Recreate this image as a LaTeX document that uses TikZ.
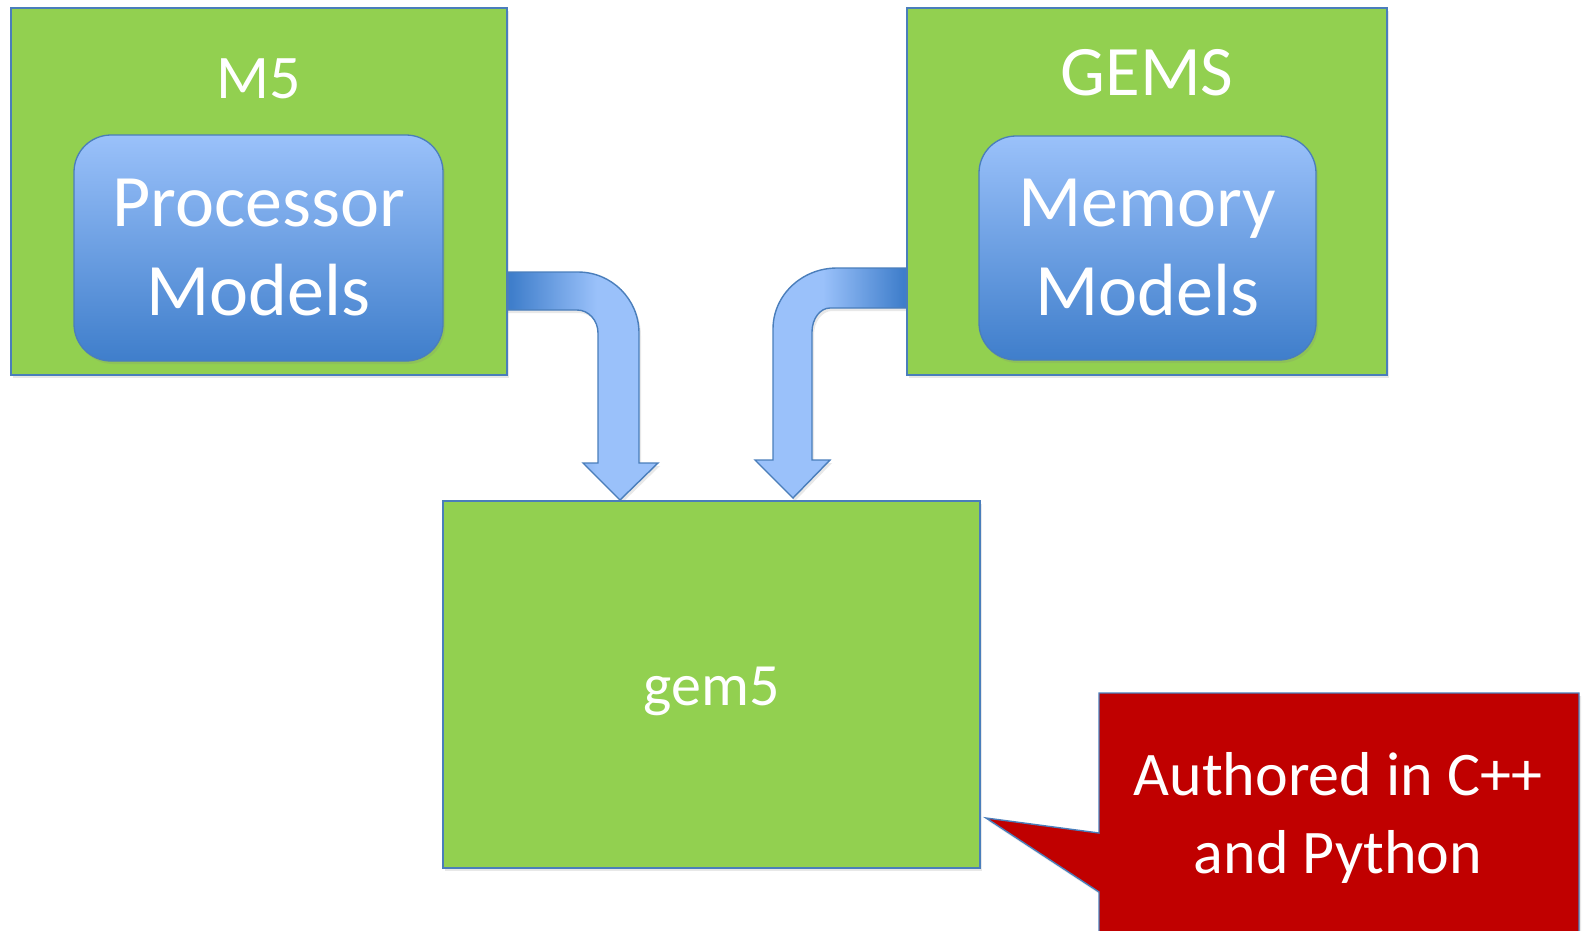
\documentclass[tikz,border=0pt]{standalone}
\usepackage{fontspec}
\setmainfont{Carlito}
\usetikzlibrary{shadows}
\definecolor{grn}{HTML}{92D050}
\definecolor{bord}{HTML}{4A7EBB}
\definecolor{lblue}{HTML}{9AC1FA}
\definecolor{dblue}{HTML}{3F7ECB}
\definecolor{calred}{HTML}{C00000}
\pgfdeclarehorizontalshading{arrowL}{100bp}{color(0bp)=(dblue); color(27bp)=(dblue); color(55bp)=(lblue); color(100bp)=(lblue)}
\pgfdeclarehorizontalshading{arrowR}{100bp}{color(0bp)=(lblue); color(47bp)=(lblue); color(73bp)=(dblue); color(100bp)=(dblue)}
\tikzset{
  softshadow/.style={drop shadow={opacity=0.18, shadow xshift=2pt, shadow yshift=-3pt}},
  greenbox/.style={draw=bord, line width=1.8pt, fill=grn, inner sep=0pt, softshadow},
  modelbox/.style={draw=bord, line width=1.3pt, rounded corners=37pt, top color=lblue, bottom color=dblue, inner sep=0pt, softshadow},
  ttl/.style={text=white, inner sep=0pt, font=\fontsize{62}{74}\selectfont},
  bigtxt/.style={text=white, inner sep=0pt, align=center, font=\fontsize{74}{89}\selectfont},
  bentarrow/.style={draw=bord, line width=1.4pt, line join=miter, softshadow}
}
\begin{document}
\begin{tikzpicture}[x=1pt,y=-1pt]
\useasboundingbox (0,0) rectangle (1583,930);
\clip (0,0) rectangle (1583,930);

% bent arrows (drawn first so the box borders lie on top)
\path[bentarrow, shading=arrowL]
  (505,272) -- (578,272) .. controls (611.7,272) and (639,299.3) .. (639,333)
  -- (639,463) -- (658,463) -- (620,500) -- (583,463) -- (598,463)
  -- (598,333) .. controls (598,320.3) and (588.6,310) .. (577,310)
  -- (505,310) -- cycle;
\path[bentarrow, shading=arrowR]
  (909,268) -- (837,268) .. controls (801.7,268) and (773,295.3) .. (773,329)
  -- (773,460) -- (755,460) -- (793,498) -- (830,460) -- (812,460)
  -- (812,332) .. controls (812,318.7) and (820.1,308) .. (830,308)
  -- (909,308) -- cycle;

% green boxes
\node[greenbox, minimum width=496pt, minimum height=367pt] (m5) at (259,191.5) {};
\node[greenbox, minimum width=480pt, minimum height=367pt] (gems) at (1147,191.5) {};
\node[greenbox, minimum width=537pt, minimum height=367pt] (gem5) at (711.5,684.5) {};

% model boxes
\node[modelbox, minimum width=369pt, minimum height=226pt] (proc) at (258.5,248) {};
\node[modelbox, minimum width=337pt, minimum height=224pt] (mem) at (1147.5,248) {};

% titles
\node[ttl, anchor=base] (m5t) at (259,98) {M5};
\node[ttl, font=\fontsize{71}{85}\selectfont, anchor=base] (gemst) at (1147,95) {GEMS};
\node[ttl, font=\fontsize{60}{72}\selectfont, anchor=base] (gem5t) at (711.5,705) {gem5};
\node[bigtxt] (procT) at (258.5,248) {Processor\\Models};
\node[bigtxt] (memT) at (1147.5,248) {Memory\\Models};

% callout
\coordinate (tip) at (986,818);
\path[draw=bord, line width=1.4pt, fill=calred, line join=miter, softshadow]
  (1099,693) -- (1579,693) -- (1579,945) -- (1099,945) -- (1099,892)
  -- (tip) -- (1099,833) -- cycle;
\node[ttl, align=center, font=\fontsize{62}{78}\selectfont] (callT) at (1338,818) {Authored in C++\\and Python};
\end{tikzpicture}
\end{document}
